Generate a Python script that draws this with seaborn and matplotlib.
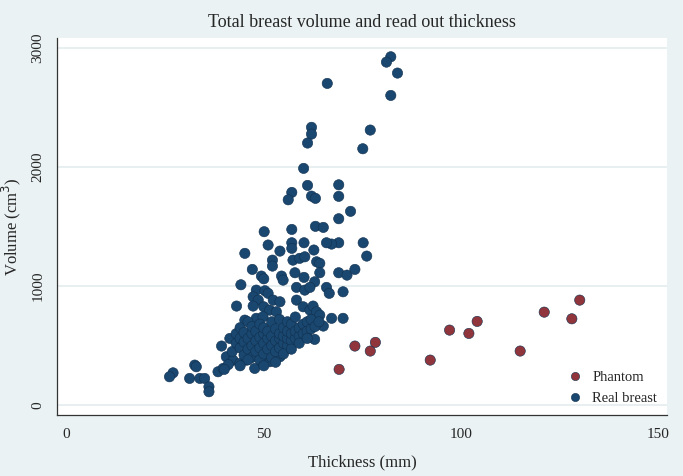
import pandas as pd
import seaborn as sns
import matplotlib.pyplot as plt

# Phantom measurements (thickness mm, volume cm3)
phantom_thickness = [69.1, 73.1, 77.0, 78.3, 92.2, 97.1, 102.0, 104.1, 115.0, 121.1, 128.1, 130.1]
phantom_volume = [300, 496, 454, 527, 378, 630, 602, 703, 454, 781, 725, 882]

real_thickness = [82.2, 81.1, 83.9, 66.1, 82.2, 62.1, 62.1, 61.1, 77.0, 75.1,
                  60.1, 61.1, 69.0, 69.0, 57.1, 56.2, 62.1, 63.1, 72.0, 69.0,
                  63.1, 65.1, 50.1, 57.1, 75.2, 76.1, 69.0, 67.2, 65.9, 60.2,
                  62.7, 57.1, 57.1, 54.1, 51.1, 45.2, 52.2, 52.2, 57.4, 59.1,
                  60.4, 63.4, 64.2, 47.1, 49.4, 50.0, 54.5, 54.9, 57.9, 60.2,
                  64.2, 62.9, 69.0, 71.1, 73.1, 44.2, 48.1, 50.3, 51.1, 58.3,
                  60.4, 61.7, 65.9, 66.6, 70.1, 47.3, 48.6, 52.4, 54.1, 43.1,
                  47.3, 50.0, 51.5, 53.2, 58.3, 60.0, 61.7, 62.5, 63.4, 64.2,
                  67.2, 70.1, 65.1, 62.9, 48.1, 49.8, 45.2, 39.3, 41.4, 32.5,
                  32.9, 27.0, 26.1, 31.2, 33.8, 35.0, 36.1, 36.1, 38.4, 39.7,
                  40.5, 42.2, 43.9, 45.6, 47.7, 49.8, 51.5, 54.1, 56.2, 58.3,
                  60.8]
real_volume = [2927, 2882, 2790, 2703, 2602, 2334, 2277, 2202, 2311, 2154,
               1989, 1846, 1851, 1754, 1787, 1725, 1756, 1737, 1628, 1566,
               1502, 1493, 1457, 1476, 1364, 1252, 1364, 1353, 1364, 1364,
               1303, 1364, 1317, 1294, 1345, 1275, 1218, 1168, 1218, 1233,
               1246, 1204, 1191, 1140, 1084, 1061, 1084, 1050, 1112, 1073,
               1112, 1036, 1112, 1092, 1140, 1011, 966, 961, 939, 989,
               966, 989, 989, 939, 952, 910, 882, 882, 868, 832,
               832, 826, 798, 784, 882, 826, 798, 832, 784, 756,
               729, 729, 664, 552, 729, 742, 714, 496, 560, 336,
               322, 271, 238, 224, 224, 224, 154, 112, 280, 308,
               406, 378, 350, 378, 308, 350, 364, 406, 476, 546,
               602]

# dense cluster in the middle (estimated)
dense_thickness = [42, 43, 43, 44, 44, 44, 45, 45, 45, 46, 46, 46, 47, 47, 47, 47,
                   48, 48, 48, 49, 49, 49, 49, 50, 50, 50, 50, 51, 51, 51, 52, 52,
                   52, 52, 53, 53, 53, 54, 54, 54, 54, 55, 55, 55, 56, 56, 56, 56,
                   57, 57, 57, 58, 58, 58, 59, 59, 60, 60, 61, 61, 62, 62, 63, 64,
                   53, 50, 46, 44, 41, 40, 55, 57, 59, 61]
dense_volume = [450, 520, 600, 480, 560, 650, 420, 530, 610, 470, 560, 700, 400, 500, 600, 660,
                450, 540, 620, 380, 480, 570, 680, 430, 520, 600, 650, 470, 560, 620, 400, 500,
                580, 700, 450, 540, 640, 480, 560, 600, 720, 520, 580, 650, 500, 560, 620, 700,
                540, 600, 680, 560, 620, 740, 580, 650, 600, 680, 620, 700, 640, 720, 660, 700,
                360, 330, 380, 330, 340, 300, 430, 470, 520, 560]

df = pd.DataFrame({
    'thickness': phantom_thickness + real_thickness + dense_thickness,
    'volume': phantom_volume + real_volume + dense_volume,
    'group': ['Phantom'] * len(phantom_thickness) + ['Real breast'] * (len(real_thickness) + len(dense_thickness)),
})

sns.set_style('white')
plt.rcParams['font.family'] = ['Liberation Serif', 'DejaVu Serif']

fig = plt.figure(figsize=(6.83, 4.76), dpi=100, facecolor='#eaf2f3')
ax = fig.add_axes([0.083, 0.128, 0.894, 0.792])
ax.set_facecolor('white')

sns.scatterplot(data=df, x='thickness', y='volume', hue='group',
                palette={'Phantom': '#90353b', 'Real breast': '#1a476f'},
                s=55, linewidth=0.4, edgecolor='#10304f', ax=ax)

ax.set_xlim(-2.5, 152.3)
ax.set_ylim(-84, 3084)
ax.set_xticks([0, 50, 100, 150])
ax.set_yticks([0, 1000, 2000, 3000])
ax.grid(axis='y', color='#e4ecee', linewidth=1.2)
ax.set_axisbelow(True)
for side in ['top', 'right']:
    ax.spines[side].set_visible(False)
for side in ['left', 'bottom']:
    ax.spines[side].set_color('#333333')
    ax.spines[side].set_linewidth(0.9)
ax.tick_params(axis='both', direction='out', length=5, width=0.8, color='#333333',
               labelsize=11, pad=4)
plt.setp(ax.get_yticklabels(), rotation=90, va='center')

ax.set_xlabel('Thickness (mm)', fontsize=12, labelpad=10)
ax.set_ylabel('Volume (cm$^3$)', fontsize=12, labelpad=6)
ax.set_title('Total breast volume and read out thickness', fontsize=13, pad=8)

leg = ax.legend(loc='lower right', frameon=False, fontsize=10.5, handletextpad=0.2,
                markerscale=0.8, borderaxespad=0.3, labelspacing=0.5)

fig.savefig('out.png', dpi=100, facecolor=fig.get_facecolor())
